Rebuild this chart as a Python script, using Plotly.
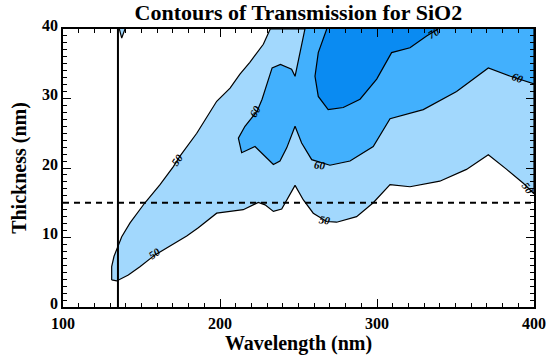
import plotly.graph_objects as go

# ---- data (wavelength nm, thickness nm) ----
levels = [50, 60, 70]
fill_colors = ["#a2d8fd", "#42b0fd", "#0a8bf2"]

# 50% contour, lower branch (left tip -> right edge)
low50_wl = [131, 134.2, 141.6, 149, 158.6, 168, 178.8, 186.2, 197.9, 206.4, 214.8, 224.4, 228.7,
            234, 239.3, 247.8, 253.1, 259.4, 267.9, 274.3, 287, 297.6, 308.3, 321, 340, 357,
            370.9, 382.6, 393.2, 400]
low50_th = [3.9, 3.75, 4.6, 5.8, 7.5, 8.7, 10.2, 11.4, 13.5, 13.75, 14.0, 15.05, 14.7,
            13.75, 14.1, 17.5, 15.4, 13.5, 12.3, 12.2, 13.0, 15.0, 17.6, 17.3, 18.1, 19.8,
            21.9, 19.8, 17.8, 16.3]
# 50% contour, upper branch (top edge -> left tip)
up50_wl = [232, 227.6, 219, 212.7, 206.4, 197.9, 185.2, 174.5, 170.3, 161.8, 152.2, 142.7,
           137.4, 135.2, 132.5, 131, 131]
up50_th = [40, 37.8, 35.2, 33.5, 31.5, 29.6, 25, 21.7, 20.2, 17.6, 15, 12.1,
           10.1, 8.9, 7.3, 5.8, 3.9]
# small 50% island at the top left
blob50_wl = [135.9, 137.4, 139.5]
blob50_th = [40, 38.7, 40]

# 60% contour (top edge -> right edge)
c60_wl = [254.1, 251, 247.8, 245.6, 238.5, 233.2, 231, 226.8, 223.7, 215.9, 211.7, 213.8, 222.3,
          229.7, 234, 238.2, 242.5, 247.8, 252, 258.4, 270, 282.8, 297.6, 308.3, 329.5, 350.7,
          370.9, 385, 397.7, 400]
c60_th = [40, 36.6, 33.2, 34.2, 34.9, 34.4, 32.8, 29.9, 28.2, 26, 24.3, 22.2, 23.1,
          21.5, 20.5, 21, 22.9, 26, 23.6, 21.2, 20.4, 21, 23.1, 27.1, 28.4, 31,
          34.4, 33.2, 32.3, 32.1]

# 70% contour (top edge -> top edge)
c70_wl = [268, 262.6, 260.5, 262.6, 268.9, 278.5, 289.2, 299.8, 309.3, 321, 331.6, 339]
c70_th = [40, 36.6, 33.2, 30.3, 28.4, 28.7, 29.9, 32.8, 36.6, 37.3, 39.0, 40]

# contour labels: text, wavelength, thickness, angle
lab_text = ["50", "50", "50", "50", "60", "60", "60", "70"]
lab_wl = [172.4, 158.6, 266.9, 396, 222.3, 263.7, 390, 336]
lab_th = [21.2, 7.7, 12.5, 17.1, 28.2, 20.4, 33, 39.4]
lab_ang = [-55, -35, 10, 55, -60, 5, 20, -30]

marker_wl = 135   # vertical reference line
marker_th = 15    # horizontal dashed reference line

x_range = [100, 400]
y_range = [0, 40]

fig = go.Figure()

line_style = dict(color="black", width=1.2)

# 50 region polygon: lower branch, right edge, top edge, upper branch
poly50_x = low50_wl + [x_range[1], x_range[1]] + up50_wl
poly50_y = low50_th + [y_range[1], y_range[1]] + up50_th
fig.add_trace(go.Scatter(x=poly50_x, y=poly50_y, mode="lines", fill="toself",
                         fillcolor=fill_colors[0], line=line_style, hoverinfo="skip"))
fig.add_trace(go.Scatter(x=blob50_wl, y=blob50_th, mode="lines", fill="toself",
                         fillcolor=fill_colors[0], line=line_style, hoverinfo="skip"))

poly60_x = c60_wl + [x_range[1]]
poly60_y = c60_th + [y_range[1]]
fig.add_trace(go.Scatter(x=poly60_x, y=poly60_y, mode="lines", fill="toself",
                         fillcolor=fill_colors[1], line=line_style, hoverinfo="skip"))

fig.add_trace(go.Scatter(x=c70_wl, y=c70_th, mode="lines", fill="toself",
                         fillcolor=fill_colors[2], line=line_style, hoverinfo="skip"))

for t, x, y, a in zip(lab_text, lab_wl, lab_th, lab_ang):
    fig.add_annotation(x=x, y=y, text=t, showarrow=False, textangle=a,
                       font=dict(family="Liberation Serif", size=11, color="black",
                                 style="italic", weight="bold"))

fig.add_vline(x=marker_wl, line=dict(color="black", width=2))
fig.add_hline(y=marker_th, line=dict(color="black", width=2, dash="6px,5px"))

font_b = dict(family="Liberation Serif", color="black", weight="bold")
axis_common = dict(showline=True, linecolor="black", linewidth=1.5, mirror="ticks",
                   ticks="inside", ticklen=8, tickcolor="black", tickwidth=1,
                   showgrid=False, zeroline=False, automargin=False,
                   tickfont=dict(size=16, **font_b))

fig.update_layout(
    width=549, height=358,
    margin=dict(l=63, r=15, t=29, b=51, autoexpand=False),
    paper_bgcolor="white", plot_bgcolor="white",
    showlegend=False,
    title=dict(text="Contours of Transmission for SiO2", x=0.5435, xanchor="center",
               y=0.965, yanchor="middle", font=dict(size=22, **font_b)),
    xaxis=dict(range=x_range, dtick=100, ticklabelstandoff=1,
               title=dict(text="Wavelength (nm)", standoff=0,
                          font=dict(size=20, **font_b)),
               minor=dict(dtick=10, ticklen=4, ticks="inside", tickcolor="black"),
               **axis_common),
    yaxis=dict(range=y_range, dtick=10, ticklabelshift=-4,
               title=dict(text="Thickness (nm)", standoff=10,
                          font=dict(size=20, **font_b)),
               minor=dict(dtick=1, ticklen=4, ticks="inside", tickcolor="black"),
               **axis_common),
)

fig.write_html("out.html")
